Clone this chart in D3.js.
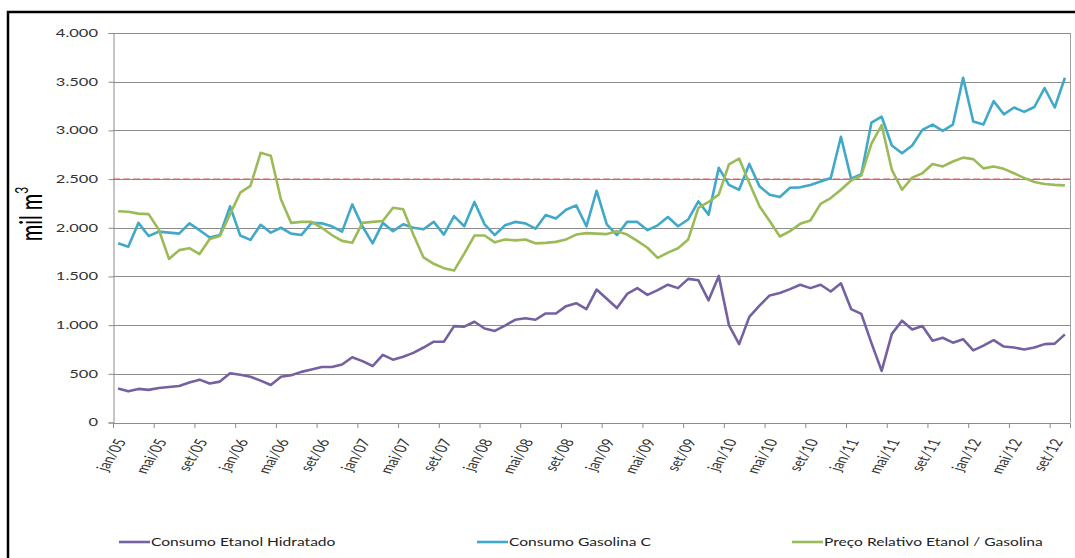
<!DOCTYPE html>
<html>
<head>
<meta charset="utf-8">
<script src="https://cdn.jsdelivr.net/npm/d3@7"></script>
<style>
  body { margin: 0; background: #fff; }
  svg text { font-family: Lato, "Open Sans", sans-serif; }
</style>
</head>
<body>
<div id="chart"></div>
<script>
// data, monthly jan/05 .. out/12 (mil m3)
var monthNames = ["jan","fev","mar","abr","mai","jun","jul","ago","set","out","nov","dez"];
var years = ["05","06","07","08","09","10","11","12"];
var categories = [];
years.forEach(function(y) { monthNames.forEach(function(m) { categories.push(m + "/" + y); }); });
categories = categories.slice(0, 94);

var etanol = [350, 320, 345, 335, 355, 365, 375, 410, 440, 400,
  420, 505, 490, 470, 430, 385, 470, 485, 520, 545,
  570, 570, 595, 670, 630, 580, 695, 645, 675, 715,
  770, 830, 830, 990, 985, 1035, 965, 940, 995, 1055,
  1070, 1055, 1120, 1120, 1195, 1225, 1165, 1365, 1270, 1175,
  1320, 1380, 1310, 1360, 1415, 1380, 1475, 1460, 1255, 1505,
  1000, 805, 1085, 1200, 1305, 1330, 1370, 1415, 1380, 1415,
  1345, 1430, 1165, 1115, 815, 530, 910, 1045, 955, 990,
  840, 870, 820, 855, 740, 790, 845, 780, 770, 750,
  770, 805, 810, 905];

var gasolina = [1840, 1805, 2050, 1915, 1960, 1950, 1940, 2045, 1975, 1900,
  1925, 2220, 1920, 1875, 2030, 1950, 2000, 1940, 1925, 2050,
  2045, 2015, 1960, 2240, 2015, 1840, 2050, 1965, 2035, 2000,
  1985, 2060, 1930, 2120, 2015, 2265, 2035, 1925, 2025, 2060,
  2045, 1990, 2130, 2095, 2185, 2230, 2015, 2380, 2035, 1925,
  2060, 2060, 1975, 2025, 2110, 2015, 2085, 2270, 2135, 2615,
  2440, 2390, 2655, 2425, 2340, 2315, 2410, 2415, 2440, 2475,
  2510, 2935, 2505, 2550, 3080, 3140, 2845, 2765, 2845, 3005,
  3060, 2995, 3060, 3540, 3090, 3060, 3300, 3165, 3235, 3190,
  3240, 3435, 3235, 3540];

var preco = [2170, 2165, 2145, 2140, 1980, 1680, 1770, 1790, 1730, 1885,
  1915, 2140, 2360, 2430, 2770, 2740, 2290, 2050, 2060, 2060,
  2000, 1925, 1865, 1845, 2050, 2060, 2070, 2205, 2190, 1930,
  1695, 1630, 1585, 1560, 1735, 1920, 1920, 1850, 1880, 1870,
  1880, 1840, 1845, 1855, 1880, 1930, 1945, 1940, 1935, 1965,
  1930, 1865, 1795, 1690, 1745, 1790, 1880, 2205, 2265, 2340,
  2650, 2710, 2460, 2220, 2070, 1910, 1965, 2040, 2075, 2245,
  2305, 2390, 2485, 2535, 2865, 3055, 2595, 2390, 2515, 2560,
  2655, 2630, 2680, 2720, 2705, 2610, 2630, 2605, 2560, 2510,
  2470, 2450, 2440, 2435];

var seriesNames = ["Consumo Etanol Hidratado", "Consumo Gasolina C", "Preço Relativo Etanol / Gasolina"];
var seriesColors = ["#7561a1", "#40a9c9", "#9bbb59"];
var yTicks = [0, 500, 1000, 1500, 2000, 2500, 3000, 3500, 4000];
var refLine = 2500;

var W = 1075, H = 558;
var margin = {top: 33, right: 5, bottom: 135.5, left: 113};
var SX = 1.5; // the original picture is stretched sideways

var svg = d3.select("#chart").append("svg")
    .attr("width", W)
    .attr("height", H);

// outer frame
svg.append("rect")
    .attr("x", 8).attr("y", 12)
    .attr("width", 1075).attr("height", 600)
    .attr("fill", "none")
    .attr("stroke", "#000")
    .attr("stroke-width", 2.5);

var x = d3.scaleBand().domain(categories).range([margin.left, 1070]);
var y = d3.scaleLinear().domain([0, 4000]).range([H - margin.bottom, margin.top]);
var fmt = d3.formatLocale({decimal: ",", thousands: ".", grouping: [3], currency: ["R$", ""]}).format(",");

// gridlines
svg.append("g").selectAll("line")
    .data(yTicks.filter(function(d) { return d > 0; }))
    .enter().append("line")
    .attr("x1", margin.left).attr("x2", 1070)
    .attr("y1", function(d) { return Math.round(y(d)) + 0.5; })
    .attr("y2", function(d) { return Math.round(y(d)) + 0.5; })
    .attr("stroke", "#8c8c8c")
    .attr("stroke-width", 1);

// right side of plot area
svg.append("line")
    .attr("x1", 1070.5).attr("x2", 1070.5)
    .attr("y1", y(4000)).attr("y2", y(0))
    .attr("stroke", "#a0a0a0");

// y axis
var yAxisG = svg.append("g")
    .attr("transform", "translate(" + (margin.left + 0.5) + ",0)")
    .call(d3.axisLeft(y).tickValues(yTicks).tickSize(5).tickFormat(""));
yAxisG.select(".domain").attr("stroke", "#8c8c8c");
yAxisG.selectAll(".tick line").attr("stroke", "#8c8c8c");

svg.append("g").selectAll("g")
    .data(yTicks)
    .enter().append("g")
    .attr("transform", function(d) { return "translate(98," + y(d) + ") scale(" + SX + ",1)"; })
    .append("text")
    .attr("text-anchor", "end")
    .attr("dy", "0.36em")
    .attr("font-size", 11)
    .attr("fill", "#333")
    .text(function(d) { return fmt(d); });

// x axis
var xAxisG = svg.append("g")
    .attr("transform", "translate(0," + (y(0) + 0.5) + ")")
    .call(d3.axisBottom(x)
        .tickValues(categories.filter(function(d, i) { return i % 4 === 0; }))
        .tickSize(5)
        .tickFormat(""));
xAxisG.select(".domain").attr("stroke", "#8c8c8c");
xAxisG.selectAll(".tick").attr("transform", function(d) { return "translate(" + (x(d) + 0.5) + ",0)"; });
xAxisG.selectAll(".tick line").attr("stroke", "#8c8c8c");

svg.append("g").selectAll("g")
    .data(categories.filter(function(d, i) { return i % 4 === 0; }))
    .enter().append("g")
    .attr("transform", function(d) {
        return "translate(" + (x(d) + x.bandwidth() / 2 + 3) + "," + (y(0) + 17) + ") scale(" + SX + ",1) rotate(-67)";
    })
    .append("text")
    .attr("text-anchor", "end")
    .attr("dy", "0.35em")
    .attr("font-size", 11.5)
    .attr("fill", "#333")
    .text(function(d) { return d; });

// reference line
svg.append("line")
    .attr("x1", margin.left).attr("x2", 1070)
    .attr("y1", y(refLine)).attr("y2", y(refLine))
    .attr("stroke", "#e05a5a")
    .attr("stroke-width", 1.3)
    .attr("stroke-dasharray", "7,3");

// series
var line = d3.line()
    .x(function(d, i) { return x(categories[i]) + x.bandwidth() / 2; })
    .y(function(d) { return y(d); });

[etanol, gasolina, preco].forEach(function(s, k) {
    svg.append("path")
        .datum(s)
        .attr("fill", "none")
        .attr("stroke", seriesColors[k])
        .attr("stroke-width", 2.6)
        .attr("stroke-linejoin", "round")
        .attr("d", line);
});

// y title
var yt = svg.append("g")
    .attr("transform", "translate(42,214) scale(" + SX + ",1) rotate(-90)")
    .append("text")
    .attr("text-anchor", "middle")
    .attr("font-size", 20)
    .attr("fill", "#000");
yt.append("tspan").text("mil m");
yt.append("tspan").attr("font-size", 12).attr("dy", "-0.8em").text("3");

// legend
var legendX = [119, 477, 792];
var legend = svg.selectAll(".legend")
    .data(seriesNames)
    .enter().append("g")
    .attr("class", "legend")
    .attr("transform", function(d, i) { return "translate(" + legendX[i] + ",542)"; });

legend.append("line")
    .attr("x1", 0).attr("x2", 31)
    .attr("stroke", function(d, i) { return seriesColors[i]; })
    .attr("stroke-width", 2.6);

legend.append("g")
    .attr("transform", "translate(32,0) scale(1.3,1)")
    .append("text")
    .attr("dy", "0.35em")
    .attr("font-size", 12)
    .attr("fill", "#222")
    .text(function(d) { return d; });
</script>
</body>
</html>
